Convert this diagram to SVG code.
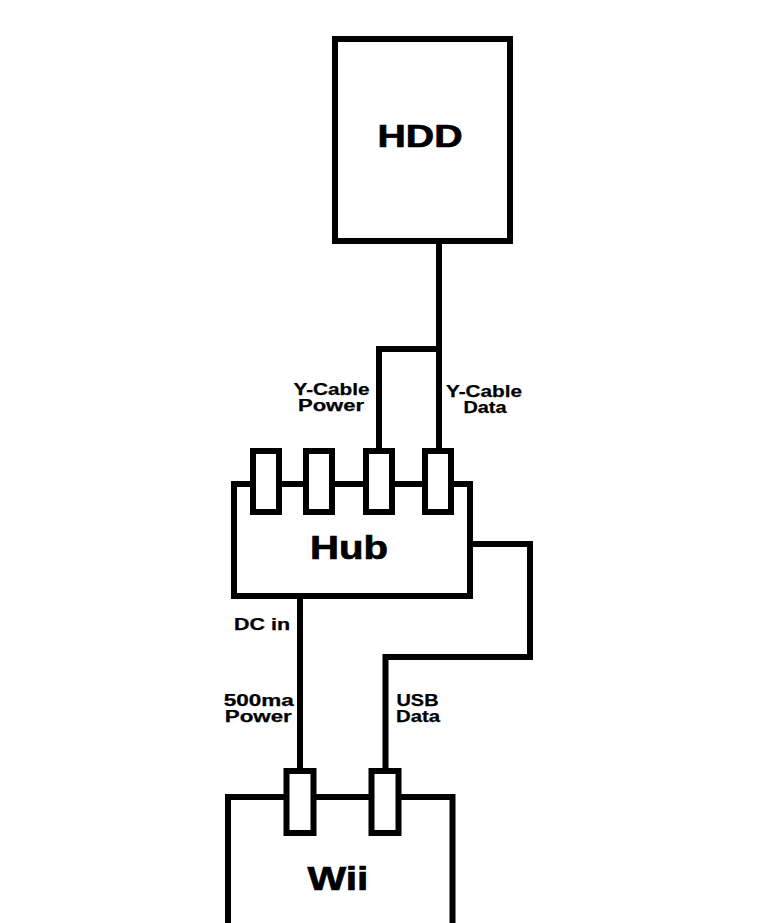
<svg xmlns="http://www.w3.org/2000/svg" width="757" height="923" viewBox="0 0 757 923">
<style>
.box{fill:#fff;stroke:#000;stroke-width:6}
.port{fill:#fff;stroke:#000;stroke-width:6}
.wire{fill:none;stroke:#000;stroke-width:6}
.big{font-family:"Liberation Sans",Arial,sans-serif;font-weight:bold;fill:#000;stroke:#000;stroke-width:0.7;text-anchor:middle}
.lbl{font-family:"Liberation Sans",Arial,sans-serif;font-weight:bold;font-size:16px;fill:#000;stroke:#000;stroke-width:0.25;text-anchor:middle}
</style>
<rect width="757" height="923" fill="#fff"/>
<g id="connectors">
<path class="wire" d="M439,241 V451 M439,349 H379 V451"/>
<path class="wire" d="M470,544 H530 V657 H385.5 V771"/>
<path class="wire" d="M300,596 V771"/>
</g>
<g id="hdd">
<rect class="box" x="335" y="39" width="175" height="202"/>
<text class="big" x="420" y="147" font-size="31" textLength="85" lengthAdjust="spacingAndGlyphs">HDD</text>
</g>
<g id="hub">
<rect class="box" x="234" y="484" width="236" height="112"/>
<rect class="port" x="253" y="451" width="26" height="61"/>
<rect class="port" x="306" y="451" width="26" height="61"/>
<rect class="port" x="366" y="451" width="26" height="61"/>
<rect class="port" x="425" y="451" width="26" height="61"/>
<text class="big" x="349" y="559" font-size="33" textLength="78" lengthAdjust="spacingAndGlyphs">Hub</text>
</g>
<g id="wii">
<path class="wire" d="M228,926 V797 H452.5 V926"/>
<rect class="port" x="286.5" y="771" width="27" height="62"/>
<rect class="port" x="371.5" y="771" width="27" height="62"/>
<text class="big" x="338" y="890" font-size="33" textLength="61" lengthAdjust="spacingAndGlyphs">Wii</text>
</g>
<g id="labels">
<text class="lbl" x="331.5" y="394.5" textLength="76" lengthAdjust="spacingAndGlyphs">Y-Cable</text>
<text class="lbl" x="331" y="411" textLength="66" lengthAdjust="spacingAndGlyphs">Power</text>
<text class="lbl" x="484" y="396.5" textLength="76" lengthAdjust="spacingAndGlyphs">Y-Cable</text>
<text class="lbl" x="485" y="413" textLength="43" lengthAdjust="spacingAndGlyphs">Data</text>
<text class="lbl" x="262" y="630" textLength="56" lengthAdjust="spacingAndGlyphs">DC in</text>
<text class="lbl" x="258.7" y="705.5" textLength="70" lengthAdjust="spacingAndGlyphs">500ma</text>
<text class="lbl" x="258.3" y="722" textLength="67" lengthAdjust="spacingAndGlyphs">Power</text>
<text class="lbl" x="417.5" y="705.5" textLength="42" lengthAdjust="spacingAndGlyphs">USB</text>
<text class="lbl" x="418" y="722" textLength="44" lengthAdjust="spacingAndGlyphs">Data</text>
</g>
</svg>
